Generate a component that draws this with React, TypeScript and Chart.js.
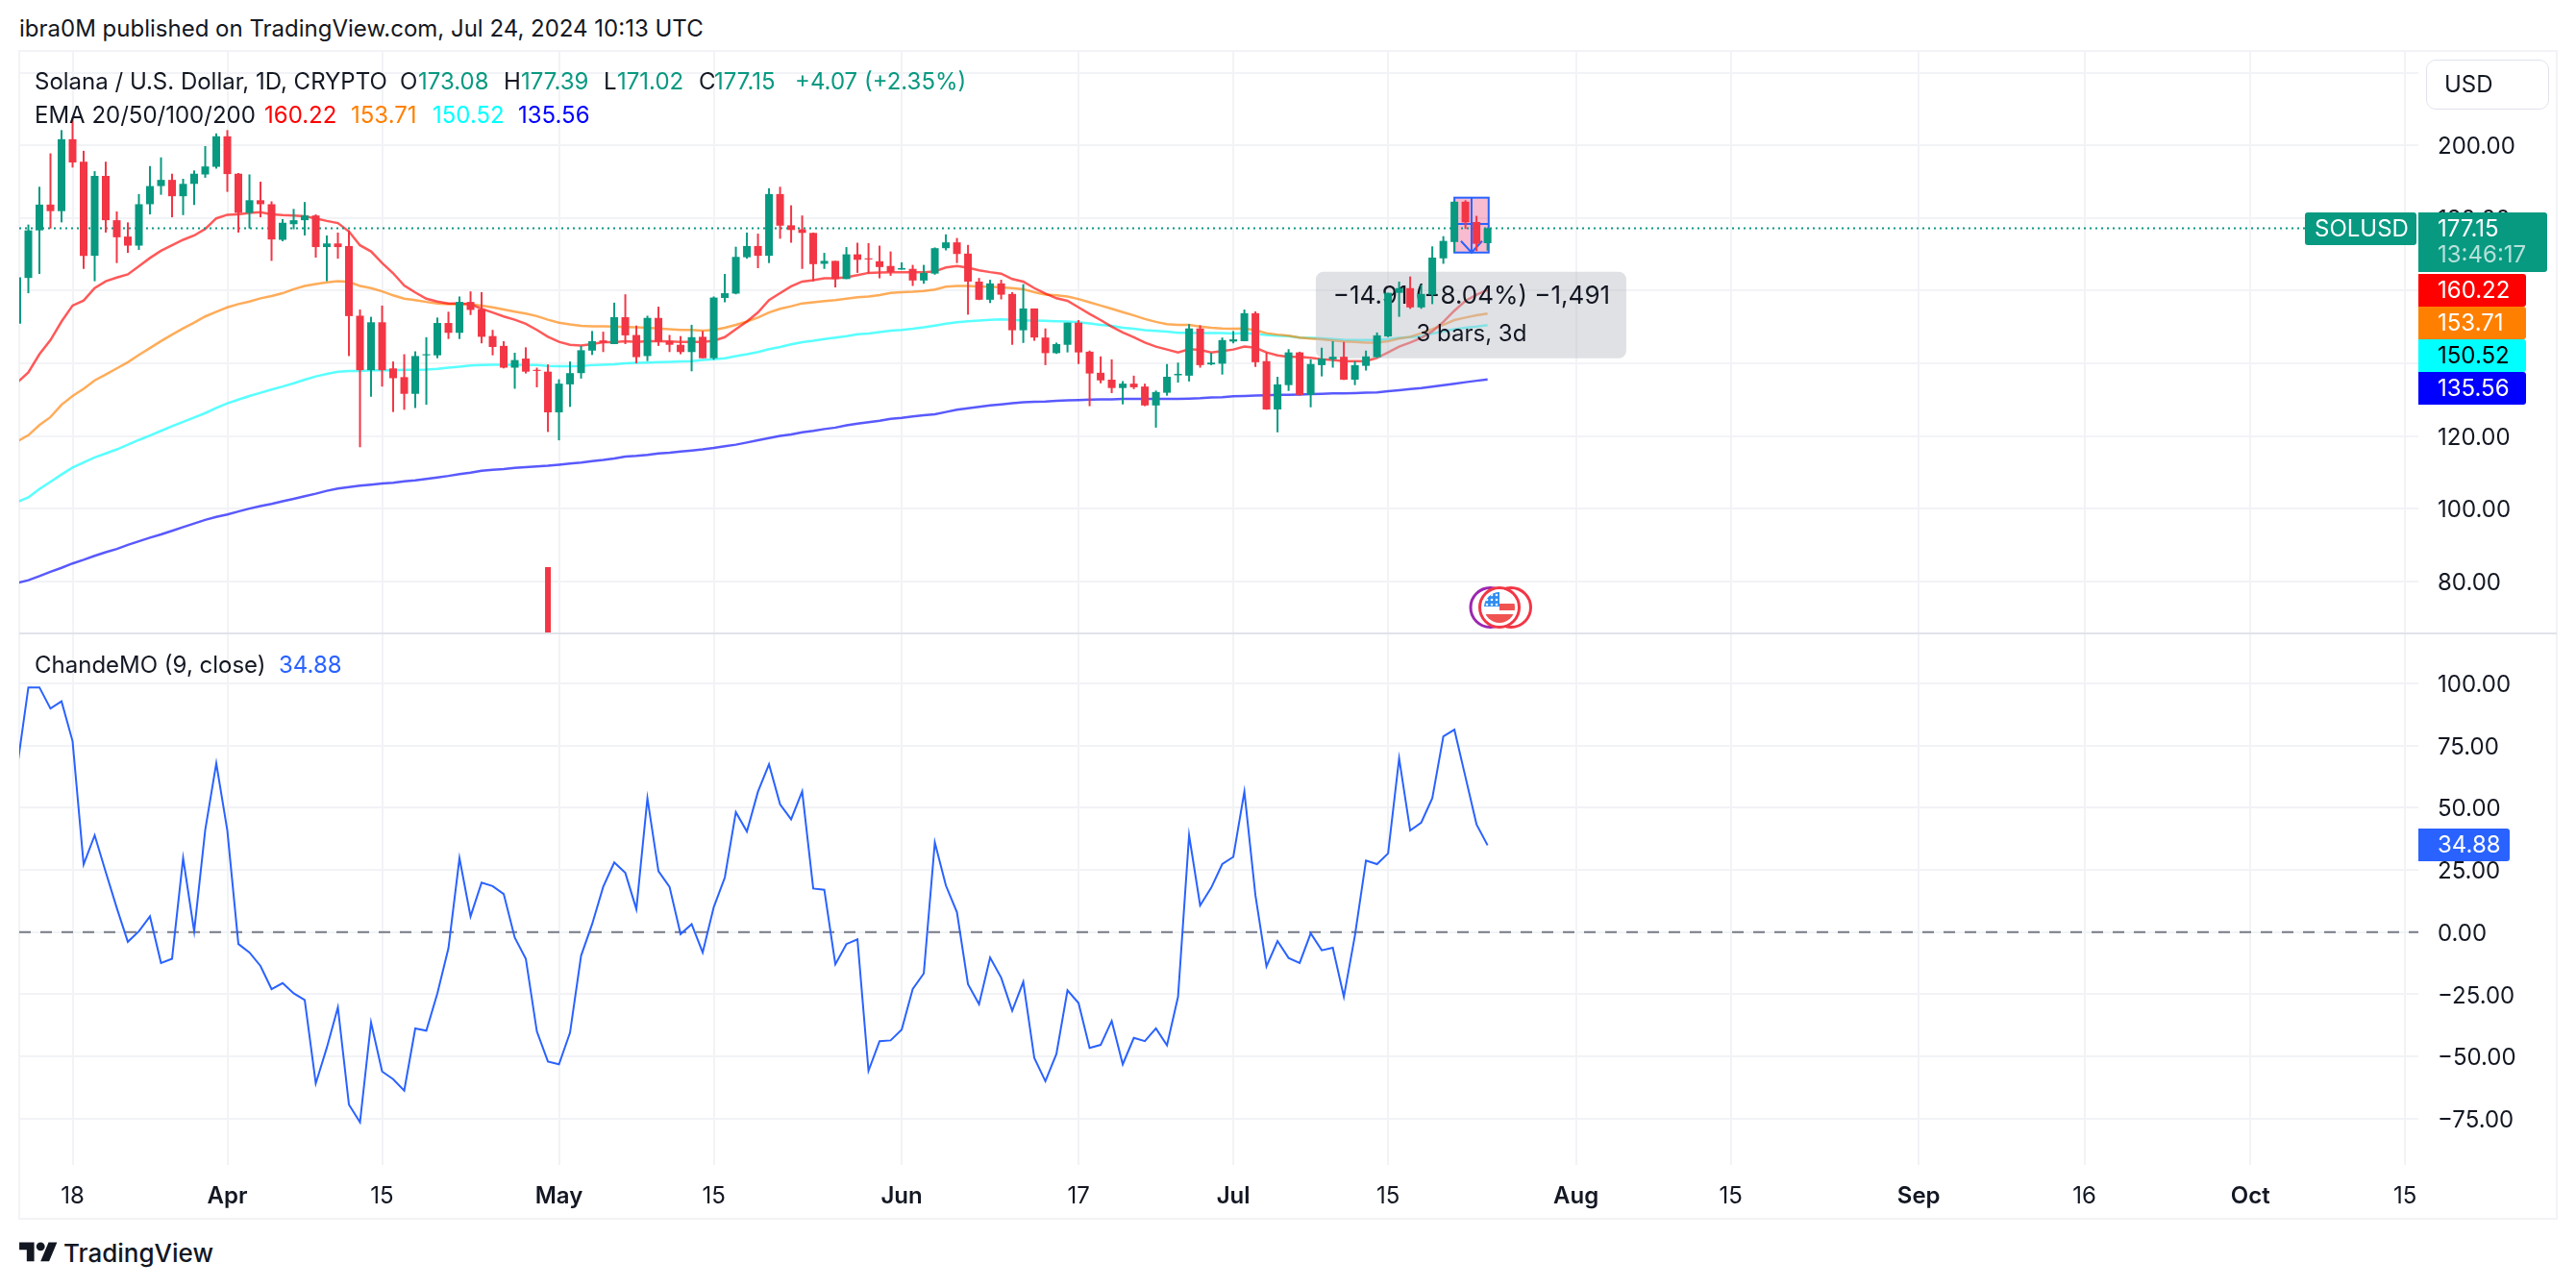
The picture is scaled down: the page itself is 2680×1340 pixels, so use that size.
import React, { useEffect, useRef } from "react";
import { Chart, registerables } from "chart.js";

Chart.register(...registerables);

const FONT = "Inter, 'Noto Sans', sans-serif";
const INK = "#131722";
const GREEN = "#089981";
const RED = "#f23645";
const BLUE = "#2962ff";
const GRID = "#f2f3f6";

// Day offsets are counted from 18 March 2024; the first visible bar is five days before it.
const firstDay = -5;
const tickDays = [0, 14, 28, 44, 58, 75, 91, 105, 119, 136, 150, 167, 182, 197, 211];
const tickLabels = ["18", "Apr", "15", "May", "15", "Jun", "17", "Jul", "15", "Aug", "15", "Sep", "16", "Oct", "15"];
const monthDays = [14, 44, 75, 105, 136, 167, 197];
const priceTicks = [220, 200, 180, 160, 140, 120, 100, 80];
const cmoTicks = [100, 75, 50, 25, 0, -25, -50, -75];

const opens = [
  150.9, 163.5, 176.6, 183.7, 181.9,
  201.7, 195.5, 169.6, 191.6, 179.4, 174.9, 172.4, 183.8, 188.8, 190.5,
  186, 189.4, 192, 194.1, 202.5, 192.2, 181.4, 184.9, 183.8, 174,
  178.3, 179.4, 180.7, 172, 173, 172.3, 153.1, 138.1, 151.3, 138.6,
  136.2, 131.6, 142.2, 142.2, 151.1, 148.4, 156.9, 154.9, 147.5, 144.8,
  138.8, 141.3, 138.2, 137.7, 126.5, 134.2, 137.3, 143.5, 146.3, 145.3,
  152.7, 147.8, 142, 152.5, 146.2, 145.1, 143.1, 147.3, 141.4, 158,
  159.2, 169.2, 172.3, 169.6, 186.6, 178, 176.9, 175.9, 167.4, 168.2,
  163.2, 170, 168.9, 168.1, 166.8, 165.8, 166, 162.8, 164.7, 171.7,
  173.3, 170.2, 162.5, 157.5, 162, 159.1, 149.1, 155.1, 147.1, 142.8,
  145.1, 151.2, 143.2, 137.4, 135.5, 133.2, 134.4, 133.6, 128.4, 131.9,
  136.7, 136.6, 149.6, 139.7, 139.9, 146, 146.1, 153.8, 140.6, 127.3,
  134, 143, 131.3, 139.5, 141.1, 141.8, 135.5, 139.3, 141.7, 147.4,
  159.4, 160.7, 155.4, 158.9, 168.9, 173.4, 184.5, 178.9, 173.08,
];
const highs = [
  165, 178.2, 188.6, 197.8, 204.2,
  207.6, 198.5, 192.9, 195.5, 181.8, 178.8, 186.6, 194.3, 196.7, 192.2,
  190.8, 193.1, 199.8, 203.3, 204.2, 192.4, 192, 190, 184.6, 179.7,
  182.5, 184.4, 181, 175.2, 176, 176.6, 154.8, 152.8, 155.9, 140.5,
  142.5, 143.3, 147.2, 152.6, 154.2, 158.4, 159.8, 159.6, 149.2, 146.1,
  142.9, 144.4, 138.8, 139.7, 135.6, 140.5, 144.8, 148.9, 148.7, 156.7,
  159, 150.4, 153.1, 155.6, 147.8, 147.5, 150.6, 148.9, 158.4, 164.6,
  172.1, 176, 175.7, 188.2, 188.6, 183.5, 180.7, 176, 170.4, 168.2,
  172, 173.2, 173.1, 172.4, 170.8, 167.8, 167.1, 167.1, 171.9, 175.5,
  174.5, 172.6, 163.5, 163, 163, 159.6, 161.8, 155.1, 149.6, 145.7,
  151.2, 151.9, 143.5, 141.9, 141.1, 135.1, 136.6, 134.4, 132.5, 139.8,
  140.2, 150.8, 150.5, 142.9, 147.1, 148.9, 154.8, 154.3, 143, 136.3,
  143.9, 143.2, 141.1, 144.3, 146.1, 145.9, 140.6, 143.5, 148.5, 159.4,
  162.5, 163.9, 161.6, 172.2, 175, 184.7, 184.9, 180.6, 177.39,
];
const lows = [
  150, 159.3, 164.6, 177.1, 178.8,
  193.9, 166, 162.6, 176, 167.6, 170.4, 171.2, 181, 186.4, 180.2,
  180.8, 183.6, 191.1, 193.6, 187.2, 176, 177.1, 180.2, 168.2, 173.6,
  176.9, 175.2, 169.1, 162.6, 168.8, 142, 116.9, 130.8, 133.6, 126.6,
  127.2, 127.7, 128.6, 141.4, 146.7, 146.7, 153.3, 145.5, 142.2, 138.6,
  133, 137.2, 133.4, 121.1, 118.8, 128, 135.8, 142.3, 143.1, 145.3,
  145.3, 140, 140.6, 144.8, 143.1, 142.5, 137.8, 141.4, 141, 156.8,
  159, 168.8, 166.2, 167.6, 174.3, 173.2, 166, 162.6, 166, 160.9,
  163.2, 164.9, 164.7, 163.4, 164.1, 165.8, 161.3, 161.9, 164.4, 171.1,
  167.6, 153.4, 157.4, 156.6, 157.6, 145.1, 145.6, 146.2, 139.5, 142.6,
  143, 139.8, 128.2, 134.5, 131.8, 128.7, 132.9, 128.2, 122.3, 131.1,
  134.7, 135, 138.8, 139.5, 136.9, 145.5, 146.1, 139, 127.2, 121,
  132.4, 131.1, 127.9, 136.4, 138.8, 135.4, 134, 138, 141.5, 147.2,
  152.8, 155, 155, 156.3, 167.4, 170.7, 177, 170.9, 171.02,
];
const closes = [
  163.7, 176.6, 183.7, 181.9, 201.7,
  195.3, 169.6, 191.6, 179.4, 174.7, 172.4, 183.8, 188.8, 190.5, 186,
  189.4, 192.2, 194.2, 202.5, 192.1, 181.4, 184.9, 183.8, 174.1, 178.7,
  179.4, 180.7, 172, 173, 172, 153, 138.1, 151.3, 138.1, 135.9,
  131.6, 142, 142.5, 151.1, 148.4, 156.9, 154.7, 147.3, 144.5, 138.8,
  140.9, 137.7, 137.9, 126.5, 134.4, 137.3, 143.6, 146.1, 145.6, 152.7,
  147.7, 141.7, 152.5, 145.9, 145.1, 143.1, 147.2, 141.4, 158.1, 159.3,
  169.3, 172.3, 169.6, 186.6, 177.9, 176.7, 175.9, 167.3, 168.2, 163.2,
  170, 168.5, 168.6, 166.5, 165.1, 166.2, 162.8, 164.9, 171.7, 173.3,
  170.1, 162.5, 157.5, 162, 158.9, 149.1, 155.1, 147.1, 142.8, 145.3,
  151.2, 143, 137.2, 135.3, 133.2, 134.4, 133.4, 128.4, 132.1, 136.3,
  137.1, 149.6, 139.5, 140.2, 146.4, 146.6, 153.8, 140.3, 127.3, 134.2,
  143, 131.3, 139.8, 141.3, 141.8, 135.5, 139.5, 141.9, 147.7, 159.4,
  160.7, 155.4, 159.1, 169.1, 173.7, 184.5, 178.8, 172.9, 177.15,
];
const ema20 = [
  134.7, 137.5, 142.5, 146.4, 151.5,
  155.9, 157.3, 160.7, 162.6, 163.6, 164.5, 166.7, 169, 171, 172.5,
  174, 175.2, 177, 179.9, 180.9, 181, 181.4, 181.6, 181, 180.8,
  180.7, 180.5, 179.9, 179.2, 178.6, 176.3, 172.5, 170.8, 167.6, 164.8,
  161.4, 159.5, 157.8, 157, 156.5, 156.5, 156.3, 155, 154, 152.9,
  152, 150.9, 149.2, 147.3, 145.9, 145.1, 144.9, 145.3, 145.8, 145.8,
  146.1, 145.9, 146.1, 146.1, 146, 145.9, 145.9, 145.9, 146.2, 147.2,
  149.4, 151.5, 154, 157.4, 159.3, 161.2, 162.5, 162.9, 163.4, 163.4,
  163.7, 164.3, 164.9, 165, 165.1, 165.1, 165.1, 165.1, 165.3, 166.4,
  166.8, 166.3, 165.6, 165.1, 164.7, 163.2, 162.5, 160.7, 159.2, 157.9,
  157.2, 155.4, 153.6, 151.9, 150.1, 148.5, 147.2, 145.7, 144.6, 143.8,
  143, 143.9, 143.7, 143, 143.4, 143.8, 144.6, 144.3, 143, 142.2,
  141.8, 141.8, 141.5, 141.1, 140.9, 140.6, 140.6, 140.6, 141.5, 143,
  144.6, 145.7, 147, 148.8, 151.4, 154.5, 157.2, 158.9, 160.22,
];
const ema50 = [
  118.5, 120.2, 123, 125.2, 128.6,
  131, 133, 135.3, 136.9, 138.6, 140.3, 142.3, 144.2, 146.1, 147.9,
  149.6, 151.2, 152.9, 154.2, 155.4, 156.3, 157, 157.9, 158.5, 159.3,
  160.4, 161.3, 161.8, 162.3, 162.6, 162.4, 161.3, 160.7, 159.8, 158.7,
  157.8, 157.4, 156.9, 156.5, 156.3, 156.3, 156.3, 155.9, 155.4, 154.8,
  154.2, 153.7, 153, 152, 151.2, 150.7, 150.3, 150.2, 150.2, 150.1,
  150, 149.9, 149.8, 149.6, 149.4, 149.2, 149.2, 149, 149.2, 149.8,
  150.6, 151.5, 152.6, 154, 155, 155.7, 156.5, 156.8, 157.1, 157.4,
  157.8, 158.2, 158.4, 158.8, 159.4, 159.6, 159.7, 159.9, 160.3, 161.1,
  161.3, 161.3, 161.1, 161.1, 160.9, 160.7, 160.4, 159.6, 158.9, 158.7,
  158.4, 157.7, 156.8, 155.9, 155, 154.1, 153.2, 152.2, 151.4, 150.8,
  150.6, 150.6, 150.1, 149.8, 149.6, 149.5, 149.6, 149.1, 148.3, 147.9,
  147.6, 147.1, 146.8, 146.6, 146.3, 146, 145.9, 145.7, 145.7, 146.1,
  146.8, 147.3, 148.3, 149.4, 150.6, 151.9, 152.6, 153.2, 153.71,
];
const ema100 = [
  101.8, 103.1, 105.4, 107.4, 109.4,
  111.3, 112.7, 114.1, 115.2, 116.3, 117.6, 118.9, 120.1, 121.4, 122.7,
  123.9, 125.1, 126.3, 127.7, 129, 130, 131, 131.9, 132.8, 133.6,
  134.5, 135.5, 136.4, 137.1, 137.7, 137.9, 137.9, 138.1, 138.1, 138.1,
  138.2, 138.2, 138.3, 138.5, 138.8, 139.1, 139.4, 139.5, 139.6, 139.6,
  139.6, 139.5, 139.5, 139.3, 139.2, 139.2, 139.3, 139.5, 139.6, 139.7,
  140, 140.1, 140.2, 140.3, 140.4, 140.5, 140.6, 140.9, 141.1, 141.4,
  142, 142.5, 143.1, 143.9, 144.5, 145.2, 145.8, 146.2, 146.7, 147.1,
  147.5, 148, 148.2, 148.6, 149, 149.2, 149.5, 149.9, 150.4, 150.9,
  151.3, 151.6, 151.8, 152, 152.1, 152, 151.8, 151.8, 151.7, 151.6,
  151.5, 151.3, 151, 150.6, 150.3, 149.8, 149.5, 149.1, 148.9, 148.7,
  148.4, 148.4, 148.3, 148.3, 148.3, 148.2, 148.3, 148.1, 147.8, 147.6,
  147.5, 147.1, 147, 146.9, 146.7, 146.5, 146.4, 146.4, 146.4, 146.7,
  147, 147.2, 147.5, 148.2, 148.8, 149.4, 149.8, 150.1, 150.52,
];
const ema200 = [
  79.5, 80.3, 81.4, 82.6, 83.7,
  84.9, 85.9, 87, 88, 88.9, 90, 91, 92, 92.9, 93.9,
  94.9, 95.9, 96.9, 97.7, 98.4, 99.2, 100, 100.7, 101.3, 102,
  102.7, 103.4, 104.1, 104.9, 105.5, 105.9, 106.3, 106.6, 106.9, 107.1,
  107.5, 107.8, 108.2, 108.6, 109, 109.5, 109.9, 110.4, 110.7, 110.9,
  111.2, 111.4, 111.6, 111.8, 112.1, 112.4, 112.7, 113.1, 113.4, 113.8,
  114.3, 114.5, 114.8, 115.2, 115.4, 115.7, 116, 116.3, 116.7, 117.2,
  117.6, 118.2, 118.8, 119.4, 120, 120.4, 121, 121.4, 121.9, 122.3,
  122.9, 123.4, 123.8, 124.2, 124.7, 125, 125.4, 125.7, 126, 126.6,
  127.2, 127.6, 128, 128.4, 128.7, 129, 129.3, 129.4, 129.5, 129.7,
  129.8, 129.9, 130, 130.1, 130.1, 130.2, 130.2, 130.2, 130.2, 130.2,
  130.2, 130.3, 130.4, 130.6, 130.7, 130.9, 131, 131.1, 131.2, 131.3,
  131.3, 131.4, 131.5, 131.6, 131.7, 131.7, 131.8, 131.9, 132, 132.3,
  132.6, 132.9, 133.2, 133.6, 134, 134.4, 134.8, 135.2, 135.56,
];
const cmo = [
  66.5, 98.3, 98.3, 89.8, 92.7,
  76.7, 27.2, 38.9, 24.1, 9.7, -3.9, 0.3, 6.3, -12.4, -10.7,
  29.7, 0.3, 41.1, 67.8, 40.8, -4.8, -8.2, -13.6, -22.9, -20.5,
  -24.6, -27.3, -60.8, -46.4, -30.2, -69.3, -76.4, -36.3, -56, -59.1,
  -63.7, -38.7, -39.6, -24.6, -6.5, 29.7, 6.3, 19.9, 18.5, 15.3,
  -2.2, -10.7, -39.9, -52, -53.1, -40.4, -9.5, 3.2, 18.2, 28,
  23.8, 9.2, 53.8, 24.5, 18.2, -0.8, 3.2, -8.2, 10, 21.9,
  48.2, 40.4, 56.4, 67.4, 51.3, 45.3, 56.5, 17.5, 17, -12.9,
  -4.8, -2.9, -55.7, -43.8, -43.5, -39.2, -22.9, -16.6, 36, 18.7,
  8, -20.9, -29, -10.2, -18.3, -31.6, -20, -50.6, -59.9, -48.9,
  -23.4, -28.5, -46.5, -45.3, -35.7, -53.1, -42.5, -43.8, -38.7, -45.5,
  -26, 38.9, 10.7, 17.8, 27.3, 30.2, 56.4, 14.8, -13.8, -3.6,
  -10.4, -12.4, -0.5, -7.3, -6.3, -26, -1.4, 28.7, 27.3, 31.6,
  69.8, 40.8, 44, 53.8, 78.6, 81.3, 62.3, 43.3, 34.88,
];

// A lone red histogram stub rising from the pane floor.
const stubDay = 43;
const stubTop = 83.9;
const lastClose = 177.15;

// Short-position drawing tool
const toolStart = 125;
const toolEnd = 128.1;
const toolHigh = 185.6;
const toolEntry = 178.4;
const toolLow = 170.5;
const toolText = "−14.91 (−8.04%) −1,491";
const toolSubText = "3 bars, 3d";

const PRICE_H = 605;
const CMO_H = 608;
const AXIS_W = 144;
const TIME_H = 56;
const xMin = -4.826;
const xMax = 212.2;
const priceMax = 226.0;
const priceMin = 65.9;
const cmoMax = 119.6;
const cmoMin = -93.55;

const xy = (arr: number[]) => arr.map((y, i) => ({ x: firstDay + i, y }));
const span = (a: number[], b: number[]) => a.map((v, i) => ({ x: firstDay + i, y: [v, b[i]] }));
const candleColor = opens.map((o, i) => (closes[i] >= o ? GREEN : RED));

const emaLine = (data: number[], color: string) => ({
  type: "line",
  data: xy(data),
  borderColor: color,
  borderWidth: 2.5,
  pointRadius: 0,
  tension: 0,
  order: 10,
});

const rightAxis = (ticks: number[], min: number, max: number) => ({
  type: "linear",
  position: "right",
  min,
  max,
  grid: { color: GRID, lineWidth: 2, drawTicks: false },
  border: { display: false },
  afterBuildTicks: (s: any) => {
    s.ticks = ticks.map((value) => ({ value }));
  },
  afterFit: (s: any) => {
    s.width = AXIS_W;
    s.paddingTop = 0;
    s.paddingBottom = 0;
  },
  ticks: {
    padding: 20,
    labelOffset: 2,
    color: INK,
    font: { family: FONT, size: 24 },
    autoSkip: false,
    callback: (v: number) => v.toFixed(2).replace("-", "−"),
  },
});

const timeAxis = (showLabels: boolean) => ({
  type: "linear",
  min: xMin,
  max: xMax,
  offset: false,
  grid: { color: GRID, lineWidth: 2, drawTicks: false, offset: false },
  border: { display: false },
  afterBuildTicks: (s: any) => {
    s.ticks = tickDays.map((value) => ({ value }));
  },
  afterFit: (s: any) => {
    s.height = showLabels ? TIME_H : 0;
    s.paddingLeft = 0;
    s.paddingRight = 0;
  },
  ticks: {
    display: showLabels,
    padding: 18,
    color: INK,
    autoSkip: false,
    maxRotation: 0,
    minRotation: 0,
    font: (ctx: any) => ({
      family: FONT,
      size: 24,
      weight: monthDays.includes(ctx.tick?.value) ? "600" : "400",
    }),
    callback: (v: number) => tickLabels[tickDays.indexOf(v)] ?? "",
  },
});

const baseOptions = {
  responsive: false,
  animation: false as const,
  events: [],
  layout: { padding: 0 },
  plugins: { legend: { display: false }, tooltip: { enabled: false } },
};

const toolPlugin = {
  id: "positionTool",
  afterDatasetDraw(chart: any, args: any) {
    if (args.index !== 0) return;
    const { ctx } = chart;
    const x = chart.scales.x;
    const y = chart.scales.y;
    const l = x.getPixelForValue(toolStart);
    const r = x.getPixelForValue(toolEnd);
    const t = y.getPixelForValue(toolHigh);
    const b = y.getPixelForValue(toolLow);
    const e = y.getPixelForValue(toolEntry);
    const c = (l + r) / 2;
    ctx.save();
    ctx.fillStyle = "rgba(233,30,99,0.3)";
    ctx.fillRect(l, t, r - l, b - t);
    ctx.strokeStyle = BLUE;
    ctx.lineWidth = 2;
    ctx.strokeRect(l, t, r - l, b - t);
    ctx.beginPath();
    ctx.moveTo(l, e);
    ctx.lineTo(r, e);
    ctx.moveTo(c, t);
    ctx.lineTo(c, b);
    ctx.moveTo(c - 11, b - 12);
    ctx.lineTo(c, b);
    ctx.lineTo(c + 11, b - 12);
    ctx.stroke();
    // read-out plate
    const boxL = c - 162;
    const boxR = c + 161;
    const boxT = b + 20;
    const boxB = b + 110;
    ctx.fillStyle = "rgba(185,188,198,0.45)";
    ctx.beginPath();
    ctx.roundRect(boxL, boxT, boxR - boxL, boxB - boxT, 8);
    ctx.fill();
    ctx.fillStyle = INK;
    ctx.textAlign = "center";
    ctx.textBaseline = "middle";
    ctx.font = `26px ${FONT}`;
    ctx.fillText(toolText, c, boxT + 25);
    ctx.font = `24px ${FONT}`;
    ctx.fillText(toolSubText, c, boxT + 65);
    ctx.restore();
  },
};

function Txt({ x, cy, size = 24, color = INK, weight = 400, children }: any) {
  return (
    <div
      style={{
        position: "absolute",
        left: x,
        top: cy - 20,
        height: 40,
        lineHeight: "40px",
        fontFamily: FONT,
        fontSize: size,
        fontWeight: weight,
        color,
        whiteSpace: "nowrap",
      }}
    >
      {children}
    </div>
  );
}

function Tag({ left, top, w, h, bg, color = "#fff", textX = 20, radius = "0 3px 3px 0", text, sub }: any) {
  return (
    <div
      style={{
        position: "absolute",
        left,
        top,
        width: w,
        height: h,
        background: bg,
        borderRadius: radius,
      }}
    >
      <div
        style={{
          position: "absolute",
          left: textX,
          top: 0,
          height: 34,
          lineHeight: "34px",
          fontFamily: FONT,
          fontSize: 24,
          color,
          whiteSpace: "nowrap",
        }}
      >
        {text}
      </div>
      {sub ? (
        <div
          style={{
            position: "absolute",
            left: textX,
            top: 27,
            height: 34,
            lineHeight: "34px",
            fontFamily: FONT,
            fontSize: 24,
            color: "rgba(255,255,255,0.7)",
            whiteSpace: "nowrap",
          }}
        >
          {sub}
        </div>
      ) : null}
    </div>
  );
}

function EventIcons() {
  return (
    <svg
      width={80}
      height={56}
      viewBox="0 0 80 56"
      style={{ position: "absolute", left: 1522, top: 604, overflow: "visible" }}
    >
      <defs>
        <clipPath id="flagClip">
          <circle cx={38} cy={28} r={16} />
        </clipPath>
      </defs>
      <circle cx={28.5} cy={28} r={20.5} fill="#fff" stroke="#9c27b0" strokeWidth={3} />
      <circle cx={50} cy={28} r={20.5} fill="#fff" stroke={RED} strokeWidth={3} />
      <circle cx={38} cy={28} r={20.5} fill="#fff" stroke={RED} strokeWidth={3} />
      <g clipPath="url(#flagClip)">
        <rect x={20} y={10} width={40} height={36} fill="#fff" />
        <rect x={38} y={24} width={20} height={7} fill="#f05252" />
        <rect x={20} y={35} width={40} height={12} fill="#f05252" />
        <rect x={20} y={10} width={18} height={17} fill="#2f8cf0" />
        {[15, 20, 25].map((cy) =>
          [25, 30, 35].map((cx) => <circle key={`${cx}-${cy}`} cx={cx} cy={cy} r={1.3} fill="#fff" />),
        )}
      </g>
    </svg>
  );
}

export default function App() {
  const priceRef = useRef<HTMLCanvasElement>(null);
  const cmoRef = useRef<HTMLCanvasElement>(null);

  useEffect(() => {
    const price = new Chart(priceRef.current as HTMLCanvasElement, {
      type: "bar",
      plugins: [toolPlugin],
      data: {
        datasets: [
          emaLine(ema20, "rgba(255,0,0,0.65)"),
          emaLine(ema50, "rgba(255,128,0,0.65)"),
          emaLine(ema100, "rgba(0,255,255,0.65)"),
          emaLine(ema200, "rgba(0,0,255,0.65)"),
          {
            type: "line",
            data: [
              { x: xMin, y: lastClose },
              { x: xMax, y: lastClose },
            ],
            borderColor: GREEN,
            borderWidth: 2,
            borderDash: [2, 4],
            pointRadius: 0,
            order: 5,
          },
          {
            type: "bar",
            data: [{ x: stubDay, y: [priceMin - 5, stubTop] }],
            backgroundColor: RED,
            barThickness: 6,
            grouped: false,
            borderWidth: 0,
            inflateAmount: 0,
            order: 3,
          },
          {
            type: "bar",
            data: span(lows, highs),
            backgroundColor: candleColor,
            barThickness: 2,
            grouped: false,
            borderWidth: 0,
            inflateAmount: 0,
            order: 2,
          },
          {
            type: "bar",
            data: span(opens, closes),
            backgroundColor: candleColor,
            barThickness: 8,
            grouped: false,
            borderWidth: 0,
            inflateAmount: 0,
            order: 1,
          },
        ],
      },
      options: {
        ...baseOptions,
        scales: { x: timeAxis(false), y: rightAxis(priceTicks, priceMin, priceMax) },
      },
    } as any);

    const chande = new Chart(cmoRef.current as HTMLCanvasElement, {
      type: "line",
      data: {
        datasets: [
          {
            data: xy(cmo),
            borderColor: BLUE,
            borderWidth: 2,
            pointRadius: 0,
            tension: 0,
            order: 1,
          },
          {
            data: [
              { x: xMin, y: 0 },
              { x: xMax, y: 0 },
            ],
            borderColor: "#787b86",
            borderWidth: 2,
            borderDash: [12, 10],
            pointRadius: 0,
            order: 2,
          },
        ],
      },
      options: {
        ...baseOptions,
        scales: { x: timeAxis(true), y: rightAxis(cmoTicks, cmoMin, cmoMax) },
      },
    } as any);

    return () => {
      price.destroy();
      chande.destroy();
    };
  }, []);

  return (
    <div
      style={{
        position: "absolute",
        left: 0,
        top: 0,
        width: 2680,
        height: 1340,
        background: "#fff",
        overflow: "hidden",
      }}
    >
      <Txt x={20} cy={30}>
        ibra0M published on TradingView.com, Jul 24, 2024 10:13 UTC
      </Txt>

      <div
        style={{
          position: "absolute",
          left: 19,
          top: 52,
          width: 2642,
          height: 1217,
          boxSizing: "border-box",
          border: `2px solid ${GRID}`,
        }}
      />
      <canvas
        ref={priceRef}
        width={2640}
        height={PRICE_H}
        style={{ position: "absolute", left: 20, top: 53, display: "block" }}
      />
      <canvas
        ref={cmoRef}
        width={2640}
        height={CMO_H}
        style={{ position: "absolute", left: 20, top: 660, display: "block" }}
      />
      <div style={{ position: "absolute", left: 20, top: 658, width: 2640, height: 2, background: "#e0e3eb" }} />

      <Txt x={36} cy={85}>Solana / U.S. Dollar, 1D, CRYPTO</Txt>
      <Txt x={416} cy={85}>O</Txt>
      <Txt x={435} cy={85} color={GREEN}>173.08</Txt>
      <Txt x={524} cy={85}>H</Txt>
      <Txt x={542} cy={85} color={GREEN}>177.39</Txt>
      <Txt x={628} cy={85}>L</Txt>
      <Txt x={642} cy={85} color={GREEN}>171.02</Txt>
      <Txt x={727} cy={85}>C</Txt>
      <Txt x={743} cy={85} color={GREEN}>177.15</Txt>
      <Txt x={827} cy={85} color={GREEN}>+4.07 (+2.35%)</Txt>

      <Txt x={36} cy={120}>EMA 20/50/100/200</Txt>
      <Txt x={275} cy={120} color="#ff0000">160.22</Txt>
      <Txt x={365} cy={120} color="#ff8000">153.71</Txt>
      <Txt x={450} cy={120} color="#00ffff">150.52</Txt>
      <Txt x={539} cy={120} color="#0000ff">135.56</Txt>

      <Txt x={36} cy={692}>ChandeMO (9, close)</Txt>
      <Txt x={290} cy={692} color={BLUE}>34.88</Txt>

      <div
        style={{
          position: "absolute",
          left: 2524,
          top: 62,
          width: 128,
          height: 52,
          boxSizing: "border-box",
          border: "1px solid #e0e3eb",
          borderRadius: 10,
          background: "#fff",
        }}
      >
        <div
          style={{
            position: "absolute",
            left: 18,
            top: 0,
            lineHeight: "50px",
            fontFamily: FONT,
            fontSize: 24,
            color: INK,
          }}
        >
          USD
        </div>
      </div>

      <Tag left={2398} top={221} w={116} h={34} bg={GREEN} radius="3px" textX={10} text="SOLUSD" />
      <Tag left={2516} top={221} w={134} h={62} bg={GREEN} text="177.15" sub="13:46:17" />
      <Tag left={2516} top={285} w={112} h={34} bg="#ff0000" text="160.22" />
      <Tag left={2516} top={319} w={112} h={34} bg="#ff8000" text="153.71" />
      <Tag left={2516} top={353} w={112} h={34} bg="#00ffff" color="#000" text="150.52" />
      <Tag left={2516} top={387} w={112} h={34} bg="#0000ff" text="135.56" />
      <Tag left={2516} top={862} w={95} h={34} bg={BLUE} text="34.88" />

      <EventIcons />

      <svg
        width={40}
        height={31}
        viewBox="0 0 36 28"
        style={{ position: "absolute", left: 20, top: 1288 }}
      >
        <path d="M14 22H7V11H0V4h14v18zM28 22h-8l7.5-18h8L28 22z" fill={INK} />
        <circle cx={20} cy={8} r={4} fill={INK} />
      </svg>
      <Txt x={66} cy={1304} size={26} weight={500}>TradingView</Txt>
    </div>
  );
}
